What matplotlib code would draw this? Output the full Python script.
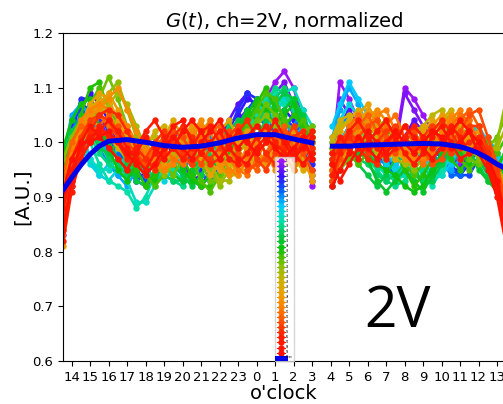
import matplotlib
matplotlib.use('Agg')
import matplotlib.pyplot as plt
from matplotlib.colors import LinearSegmentedColormap
import numpy as np

TICK_LABELS = [14, 15, 16, 17, 18, 19, 20, 21, 22, 23, 0, 1, 2, 3, 4, 5, 6, 7, 8, 9, 10, 11, 12, 13]
Y_TICKS = [0.6, 0.7, 0.8, 0.9, 1.0, 1.1, 1.2]

# hours since 14 o'clock, no data between 13 and 14.1
HOURS = [-0.45, 0, 0.5, 1, 1.5, 2, 2.5, 3, 3.5, 4, 4.5, 5, 5.5, 6, 6.5, 7, 7.5, 8, 8.5, 9, 9.5, 10, 10.5, 11,
         11.5, 12, 12.5, 13,
         14.1, 14.5, 15, 15.5, 16, 16.5, 17, 17.5, 18, 18.5, 19, 19.5, 20, 20.5, 21, 21.5, 22, 22.5, 23, 23.5]
GAP_INDEX = 28

# values, in 0.01 units, purple -> red
SERIES = [
    [83,92,97,100,101,99,97,95,93,92,93,95,97,96,94,92,94,97,99,101,103,105,108,111,113,110,104,92,98,111,108,104,100,97,98,100,110,108,105,102,99,97,96,97,99,98,94,86],
    [90,98,103,105,104,101,98,96,94,93,94,97,99,97,93,92,95,99,102,104,106,107,107,109,111,107,101,93,93,108,105,101,98,96,97,99,109,106,103,100,98,96,97,98,100,97,92,84],
    [95,103,107,106,102,99,97,95,95,96,98,100,98,95,93,94,97,101,104,107,109,106,104,107,109,105,100,94,93,103,106,103,99,96,95,97,101,104,102,99,97,96,98,100,99,96,93,88],
    [86,97,106,109,107,104,100,97,96,95,97,99,101,99,96,95,98,100,103,105,108,107,105,104,106,104,99,95,92,100,103,105,102,98,96,96,98,101,103,101,97,95,95,98,101,99,95,82],
    [92,101,108,108,105,102,99,96,94,94,96,98,100,101,98,95,95,98,102,106,109,108,104,102,104,103,99,96,93,97,101,104,105,102,99,97,97,99,102,103,100,96,94,96,99,97,94,90],
    [96,104,106,104,101,99,98,97,95,93,93,96,99,102,100,97,95,96,100,103,106,108,105,101,101,103,100,97,95,96,99,102,104,103,100,98,97,98,100,101,99,95,94,94,97,98,96,92],
    [89,100,105,107,106,102,98,95,93,94,97,100,102,100,96,94,93,96,99,102,105,105,103,100,102,105,103,98,97,100,102,104,102,99,96,94,94,96,99,100,97,94,94,97,100,100,97,93],
    [94,102,105,103,99,96,94,96,98,100,101,98,95,95,97,100,101,99,99,101,104,106,107,103,100,103,106,100,99,103,105,102,99,97,96,97,99,101,100,98,96,96,98,101,102,99,96,91],
    [97,105,107,105,102,97,94,92,95,97,99,99,96,94,94,97,100,102,100,99,101,104,107,108,104,101,103,99,101,106,110,107,103,99,97,98,100,102,99,97,95,95,97,99,101,101,98,94],
    [92,100,103,97,94,96,99,100,97,94,93,95,97,100,99,96,95,97,100,103,102,100,102,106,109,106,102,98,103,107,111,108,105,101,98,96,98,100,98,95,94,96,99,102,103,100,97,95],
    [95,100,99,96,94,93,95,98,100,98,95,93,95,98,100,99,97,96,98,101,104,106,104,105,108,107,103,100,100,104,107,105,102,99,96,95,96,99,97,94,95,97,100,103,102,99,98,96],
    [98,102,100,97,95,95,97,93,89,89,92,95,94,96,99,101,100,98,97,100,103,105,107,106,109,110,106,103,97,100,103,103,100,97,94,94,95,97,96,93,94,98,101,101,100,97,96,94],
    [94,99,102,100,96,93,92,91,88,90,94,97,95,93,95,98,100,101,99,99,102,105,108,109,107,108,104,101,96,98,101,102,99,96,94,93,94,96,94,92,95,99,102,102,99,96,95,92],
    [96,101,103,101,98,96,95,97,99,96,93,94,93,92,94,97,99,102,101,99,101,104,107,110,109,106,103,100,94,97,99,100,97,95,93,92,93,95,95,94,97,100,101,100,97,95,93,95],
    [93,98,101,103,100,97,96,94,97,100,97,94,93,93,93,96,98,100,103,102,100,103,106,108,110,107,104,102,95,97,98,97,96,94,93,94,96,94,93,95,98,100,99,98,96,93,93,97],
    [97,102,104,102,99,98,100,96,93,92,95,98,96,94,92,94,97,99,102,104,102,101,104,107,109,108,105,101,93,96,98,96,94,92,94,97,99,96,92,93,96,98,100,99,97,94,92,96],
    [91,97,100,104,103,100,97,95,94,97,99,96,94,93,95,97,95,97,100,103,106,104,101,104,106,108,104,99,92,95,97,98,97,93,91,93,95,93,91,94,97,99,101,98,95,93,91,93],
    [99,104,107,108,103,99,95,93,96,94,93,97,98,95,93,92,94,96,99,102,105,108,106,103,105,107,102,98,94,96,99,101,98,96,95,94,92,91,92,95,98,100,98,96,96,96,93,97],
    [95,100,105,110,111,106,101,97,95,92,94,96,99,97,94,92,92,95,98,101,104,107,110,106,103,105,103,100,96,99,101,99,97,99,100,98,95,92,94,97,99,97,95,97,99,98,95,99],
    [92,98,103,107,110,107,103,99,96,94,92,94,97,100,97,93,91,94,97,100,103,106,109,108,104,102,104,101,97,100,98,96,98,101,103,100,96,94,96,99,101,99,97,95,97,100,98,101],
    [94,99,102,105,108,112,108,103,99,96,95,96,94,97,99,96,93,93,96,99,102,104,107,105,102,100,102,103,96,95,97,99,101,103,104,101,97,96,98,101,103,102,99,97,96,99,101,105],
    [97,101,104,103,106,109,111,106,101,98,96,94,96,99,101,98,95,92,95,98,100,103,105,103,100,98,100,102,98,97,99,101,103,104,102,99,97,95,97,100,102,104,101,99,97,97,100,108],
    [88,96,100,102,105,107,109,107,103,99,97,96,98,101,103,100,96,93,93,96,99,101,103,101,98,97,99,101,99,99,101,103,104,102,99,97,96,97,99,102,104,105,103,101,99,98,99,103],
    [91,98,103,105,107,105,103,100,98,100,101,99,97,100,102,103,99,95,94,94,97,100,102,100,97,95,97,100,100,103,104,102,100,98,97,98,100,102,103,105,106,103,100,98,100,99,96,92],
    [93,99,102,104,103,101,99,97,97,99,102,103,100,97,100,102,104,100,96,95,95,98,100,98,96,96,99,102,101,104,105,103,101,99,100,102,103,101,100,102,104,106,103,100,98,97,95,90],
    [86,95,101,106,108,105,102,100,99,97,99,101,104,101,98,96,99,102,104,101,98,96,98,100,99,97,95,99,98,102,104,106,104,101,99,97,99,101,103,102,100,103,105,102,99,96,93,88],
    [90,97,103,107,109,108,104,101,98,97,96,98,100,102,100,97,94,96,100,103,100,97,96,99,101,99,96,94,95,99,102,105,107,103,100,98,97,99,102,104,102,100,102,104,100,97,92,87],
    [81,93,100,104,107,109,106,103,100,97,95,96,99,101,103,99,96,95,97,100,102,99,96,97,100,102,98,93,94,97,100,103,106,105,101,99,98,97,100,103,105,103,100,101,102,98,94,88],
    [85,96,102,105,106,108,110,106,102,99,96,95,97,100,102,104,100,96,94,96,99,101,98,95,97,100,102,97,93,96,99,102,104,106,104,100,97,96,98,101,103,105,102,99,100,99,95,89],
    [92,99,104,106,107,106,105,103,100,98,97,95,96,98,101,103,102,98,95,94,97,100,102,99,96,98,101,99,94,97,101,104,103,105,106,102,99,97,97,99,102,104,106,102,98,97,95,91],
    [88,95,100,103,105,103,101,102,100,97,98,99,97,96,99,101,104,101,97,95,94,97,100,102,98,95,98,100,96,99,103,105,102,100,103,105,101,98,96,98,100,103,105,104,100,96,93,86],
    [94,100,103,102,103,105,102,100,97,96,99,101,100,97,96,98,102,103,99,96,96,95,98,101,103,99,96,98,95,98,101,103,105,102,99,101,103,100,98,97,99,101,104,106,103,98,94,90],
    [87,94,98,100,102,101,103,100,98,96,96,99,102,101,98,96,99,100,102,98,95,96,97,100,102,101,98,95,93,97,100,101,103,104,101,98,100,102,99,96,97,100,102,105,106,101,96,88],
    [90,97,101,104,105,104,101,98,96,97,100,102,100,98,96,98,97,99,101,103,100,97,95,98,100,103,100,97,96,100,102,100,98,100,102,103,101,99,101,103,100,98,100,103,103,99,95,84],
    [85,92,98,102,105,106,105,102,99,97,95,98,101,103,101,98,96,97,100,102,104,101,98,96,99,101,102,99,97,99,101,99,97,96,99,102,100,98,100,102,104,102,99,100,101,98,93,82],
    [82,91,97,100,103,101,100,97,99,102,104,101,99,97,99,102,103,100,97,96,98,101,103,100,98,97,100,102,94,98,102,104,101,99,97,99,101,103,101,99,100,103,101,98,99,97,92,83],
    [88,95,99,101,102,104,102,99,97,95,98,100,103,104,100,98,100,102,99,97,96,99,101,104,101,98,96,98,98,101,99,97,100,102,104,101,98,96,98,101,103,100,97,98,100,96,91,85],
    [84,93,100,103,101,99,97,95,98,101,99,97,99,102,104,102,99,97,99,102,100,98,100,102,100,97,99,101,96,93,96,99,102,100,98,100,103,101,99,97,99,102,104,102,98,95,90,81],
    [91,97,100,100,101,102,100,98,96,94,96,99,101,99,97,100,102,104,101,99,101,103,101,99,97,99,101,97,92,95,98,101,99,97,100,102,100,98,100,102,101,99,100,102,100,97,93,86],
]
LEGEND_LABELS = [str(n) for n in [1, 22, 23, 24, 25, 26, 27, 28, 29, 30, 31, 32, 33, 34, 35, 36, 37, 38, 39, 40,
                                  41, 42, 43, 44, 45, 46, 47, 48, 49, 50, 51, 52, 53, 54, 55, 56, 57, 58, 59]]

MEAN_HOURS = [-0.45, 0, 0.5, 1, 1.5, 2, 3, 4, 5, 6, 7, 8, 9, 10, 11, 12, 13,
              14.1, 15, 16, 17, 18, 19, 20, 21, 21.5, 22, 22.5, 23, 23.7]
MEAN_VALUES = [0.913, 0.935, 0.958, 0.978, 0.993, 1.002, 1.005, 1.0, 0.994, 0.991, 0.993, 0.999, 1.008, 1.014, 1.014,
               1.006, 0.999, 0.993, 0.993, 0.995, 0.996, 0.997, 0.998, 0.997, 0.992, 0.987, 0.98, 0.971, 0.96, 0.948]

RAINBOW = ['#9a14f5', '#3a10ff', '#0060ff', '#00c8ff', '#00e0b0', '#00c850', '#10c000', '#80c000',
           '#c8b400', '#e8a000', '#ff8000', '#ff4a00', '#ff1c00', '#ff1000']

cmap = LinearSegmentedColormap.from_list('chain', RAINBOW)

fig = plt.figure(figsize=(5.03, 4.04), dpi=100)
ax = fig.add_axes([63 / 503, (404 - 361) / 404, 447 / 503, 328 / 404])

x = np.array(HOURS)
for i, row in enumerate(SERIES):
    y = np.array(row) / 100
    color = cmap(i / (len(SERIES) - 1))
    ax.plot(x[:GAP_INDEX], y[:GAP_INDEX], '-o', color=color, ms=4.6, lw=1.9, mew=0, label=LEGEND_LABELS[i])
    ax.plot(x[GAP_INDEX:], y[GAP_INDEX:], '-o', color=color, ms=4.6, lw=1.9, mew=0)

mean_x = np.array(MEAN_HOURS)
mean_y = np.array(MEAN_VALUES)
ax.plot(mean_x[:17], mean_y[:17], color='#0000e8', lw=3.6, label='Mean', zorder=5)
ax.plot(mean_x[17:], mean_y[17:], color='#0000e8', lw=3.6, zorder=5)

ax.set_xlim(-0.46, 23.7)
ax.set_ylim(0.6, 1.2)
ax.set_xticks(range(24))
ax.set_xticklabels(TICK_LABELS, fontsize=9.5)
ax.set_yticks(Y_TICKS)
ax.set_yticklabels(['%.1f' % v for v in Y_TICKS], fontsize=9.5)
ax.set_xlabel("o'clock", fontsize=14, labelpad=0, x=(284 - 63) / 447)
ax.set_ylabel('[A.U.]', fontsize=14.5, labelpad=0)
ax.set_title('$G(t)$, ch=2V, normalized', fontsize=14.1, pad=5, x=(284 - 63) / 447)

leg = ax.legend(loc='lower left', bbox_to_anchor=(212 / 447, 0.0), borderaxespad=0, fontsize=1.8,
                labelspacing=0.42, handlelength=3.4, handletextpad=0.4, borderpad=0.6, framealpha=0.8)
leg.set_zorder(10)
for handle in leg.get_lines()[:-1]:
    handle.set_linewidth(0.8)

ax.text(0.748, 0.147, '2V', transform=ax.transAxes, fontsize=41, family='Open Sans', color='black', zorder=6,
        va='center', ha='center')

fig.savefig('out.png', dpi=100)
